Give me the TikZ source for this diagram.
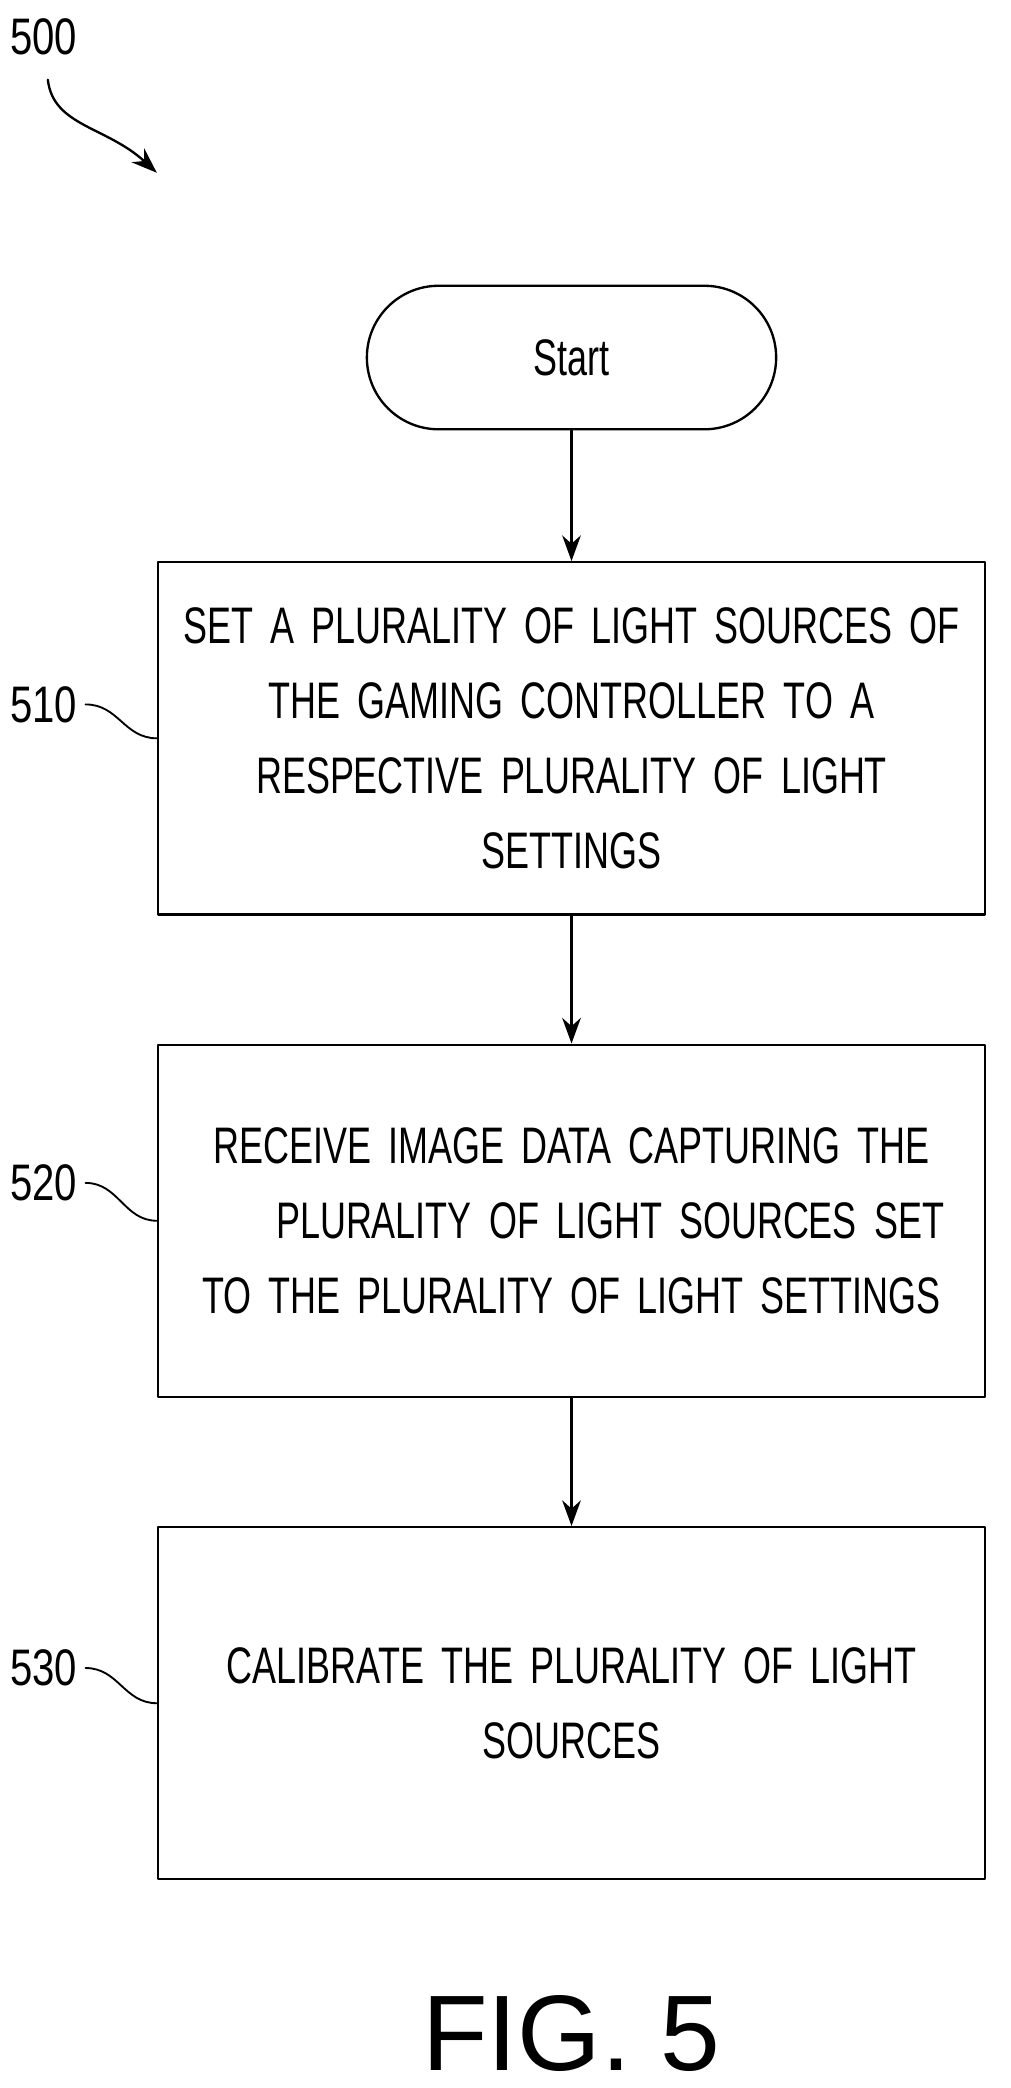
\documentclass[tikz,border=0pt]{standalone}
\usepackage{fontspec}
\setmainfont{Liberation Sans}[FakeStretch=0.78]
\newfontfamily\narrowfont{Liberation Sans}[FakeStretch=0.70]
\newfontfamily\figfont{Liberation Sans}
\usetikzlibrary{arrows.meta,positioning}

\begin{document}
\begin{tikzpicture}[x=0.02cm,y=-0.02cm,line cap=round,line join=round,>={Stealth[length=11pt,width=8pt]},
  block/.style={draw,line width=1pt,text width=11.8cm,minimum height=5.3cm,inner sep=0.32cm,align=center,font=\narrowfont\fontsize{22}{32}\selectfont},
  term/.style={draw,line width=1pt,rounded corners=1.08cm,minimum width=6.16cm,minimum height=2.16cm,font=\narrowfont\fontsize{22}{26}\selectfont},
  num/.style={font=\fontsize{22}{26}\selectfont},
  flow/.style={->,line width=1pt}]
\useasboundingbox (0,0) rectangle (760,1571);
% blocks
\node[term] (start) at (430,269) {Start};
\node[block] (s510) at (430,555.5) {SET A PLURALITY OF LIGHT SOURCES OF\\THE GAMING CONTROLLER TO A\\RESPECTIVE PLURALITY OF LIGHT\\SETTINGS};
\node[block] (s520) at (430,918.5) {RECEIVE IMAGE DATA CAPTURING THE\\\hspace*{1.5em}PLURALITY OF LIGHT SOURCES SET\\TO THE PLURALITY OF LIGHT SETTINGS};
\node[block] (s530) at (430,1281.5) {CALIBRATE THE PLURALITY OF LIGHT\\SOURCES};
% arrows
\draw[flow] (start) -- (s510);
\draw[flow] (s510) -- (s520);
\draw[flow] (s520) -- (s530);
% reference numerals
\node[num] (n500) at (33,28) {500};
\draw[flow] (36,60) .. controls (40,95) and (80,95) .. (118,130);
\node[num] (n510) at (33,530) {510};
\node[num] (n520) at (33,890) {520};
\node[num] (n530) at (33,1255) {530};
\foreach \n/\s in {n510/s510,n520/s520,n530/s530}
  \draw[line width=0.8pt] (\n.east) .. controls +(25,0) and +(-25,0) .. (\s.west);
\node[font=\figfont\fontsize{46}{50}\selectfont] (fig) at (430,1530) {FIG. 5};
\end{tikzpicture}
\end{document}
